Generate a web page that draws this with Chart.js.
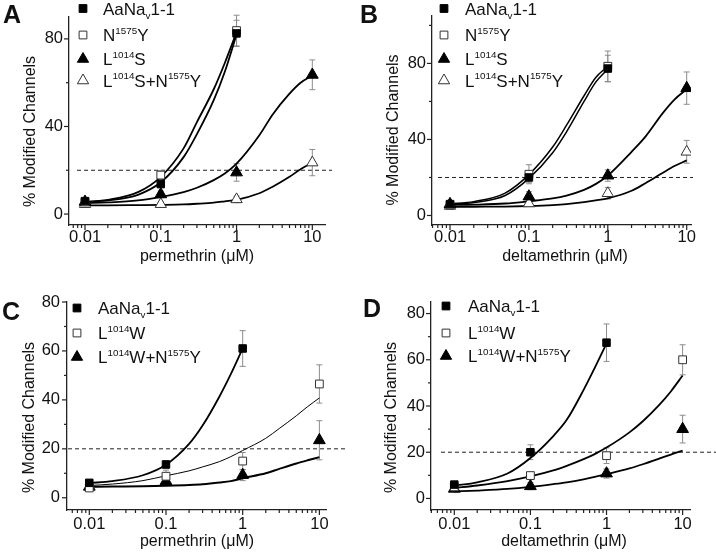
<!DOCTYPE html>
<html><head><meta charset="utf-8">
<script src="https://cdn.jsdelivr.net/npm/chart.js@4/dist/chart.umd.min.js"></script>
<style>
html,body{margin:0;padding:0;background:#fff;}
#wrap{position:relative;width:716px;height:553px;overflow:hidden;}
.p{position:absolute;}
canvas{display:block;}
</style></head><body>
<div id="wrap">
<div class="p" style="left:0;top:0"><canvas id="cA" width="358" height="276"></canvas></div>
<div class="p" style="left:358px;top:0"><canvas id="cB" width="358" height="276"></canvas></div>
<div class="p" style="left:0;top:276px"><canvas id="cC" width="358" height="277"></canvas></div>
<div class="p" style="left:358px;top:276px"><canvas id="cD" width="358" height="277"></canvas></div>
</div>
<script>
// ---------------- DATA ----------------
const conc = [0.01, 0.1, 1, 10];                 // measured concentrations (µM)
const fitConc = [0.01,0.02,0.05,0.1,0.2,0.3,0.5,0.7,1,2,3,5,7,10]; // fitted-curve sample points
const threshold = 20;

// Panel A: permethrin
const A_wt = [5.9, 13.7, 82.5];      const A_wt_err = [1, 1.5, 6];
const A_N  = [5.5, 17.8, 83.8];      const A_N_err  = [1, 2, 7];
const A_S  = [5.6, 9, 19, 63.6];     const A_S_err  = [1, 1.5, 4, 6.8];
const A_SN = [4.5, 4.5, 6.7, 23.5];  const A_SN_err = [1, 1, 1.5, 6];
const A_wt_fit = [5.5, 6.2, 8.8, 14.5, 26, 36.5, 52, 65, 82];
const A_N_fit  = [5.5, 6.5, 10, 17, 30, 42, 57, 69, 83];
const A_S_fit  = [5, 5.3, 6.2, 7.8, 10, 12, 15.5, 18.5, 23, 36, 45.5, 55, 60, 63.3];
const A_SN_fit = [4, 4, 4.1, 4.2, 4.4, 4.7, 5.2, 5.8, 6.5, 9.5, 12.5, 17, 20.5, 23.5];

// Panel B: deltamethrin
const B_wt = [6, 20, 77.3];          const B_wt_err = [1, 2.5, 7];
const B_N  = [5.5, 21.7, 78.5];      const B_N_err  = [1.5, 5, 8];
const B_S  = [6, 10, 21, 67];        const B_S_err  = [1, 2.5, 3, 8.5];
const B_SN = [5, 6.3, 11.7, 33.5];   const B_SN_err = [1.5, 1.5, 3, 6];
const B_wt_fit = [5.8, 6.8, 10.5, 19.5, 33, 44, 60, 70, 77];
const B_N_fit  = [6.2, 7.3, 11.8, 21.5, 36, 47.5, 63, 72.5, 78.5];
const B_S_fit  = [5.5, 5.7, 6.3, 7.5, 9, 10.5, 13.5, 16.5, 21, 33.5, 41.5, 54, 61, 66.4];
const B_SN_fit = [4.5, 4.6, 4.7, 5, 5.5, 6, 7, 7.9, 9, 13, 17, 22.5, 26, 29];

// Panel C: permethrin
const C_wt = [6.1, 13.6, 61];        const C_wt_err = [1, 1.5, 7.3];
const C_W  = [4, 8.8, 15, 46.5];     const C_W_err  = [1, 2.5, 3.5, 7.8];
const C_WN = [4.5, 6.8, 9.3, 23.5];  const C_WN_err = [1, 1.5, 2.3, 8];
const C_wt_fit = [6, 6.8, 9.2, 13.5, 22, 29.5, 41.5, 50.5, 61];
const C_W_fit  = [5, 5.6, 7, 9, 11, 12.6, 14.8, 16.8, 19.3, 24.3, 28.3, 33.5, 37.2, 40.8];
const C_WN_fit = [4.5, 4.6, 4.7, 4.9, 5.2, 5.5, 6.2, 6.8, 8, 10, 11.8, 14, 15.3, 16.6];

// Panel D: deltamethrin
const D_wt = [6, 20, 67.4];          const D_wt_err = [1.2, 3.2, 8.1];
const D_W  = [5, 9.9, 18.5, 60];     const D_W_err  = [1, 1.3, 3.4, 6.5];
const D_WN = [4.2, 5.3, 10.8, 30];   const D_WN_err = [1, 1.5, 2, 6];
const D_wt_fit = [5.5, 7, 10.8, 17.5, 27, 34, 47, 56.5, 67];
const D_W_fit  = [4.5, 5.6, 7.5, 9.5, 12.1, 14.1, 17, 19.2, 22, 28.6, 33.4, 40.7, 46.3, 53.2];
const D_WN_fit = [3, 3.4, 4.1, 5, 6.2, 7, 8.3, 9.3, 10.5, 13, 14.8, 17.3, 19, 20.7];

// Labels (^ = superscript, _ = subscript)
const L_WT = 'AaNa_v1-1', L_N = 'N^1575Y', L_S = 'L^1014S', L_SN = 'L^1014S+N^1575Y',
      L_W = 'L^1014W', L_WN = 'L^1014W+N^1575Y';

// ---------------- STYLE / LAYOUT ----------------
const FONT = "'Liberation Sans', Arial, Helvetica, sans-serif";
Chart.defaults.font.family = FONT;
Chart.defaults.color = '#111';

const STY = {
  fsq: {pointStyle:'rect', pointRadius:5.3, backgroundColor:'#000', borderColor:'#000', borderWidth:1},
  osq: {pointStyle:'rect', pointRadius:5.5, backgroundColor:'#fff', borderColor:'#333', borderWidth:1},
  ftri:{pointStyle:'triangle', pointRadius:6.8, backgroundColor:'#000', borderColor:'#000', borderWidth:1},
  otri:{pointStyle:'triangle', pointRadius:6.5, backgroundColor:'#fff', borderColor:'#333', borderWidth:1}
};

function pts(xs, ys){ return ys.map((y,i)=>({x:xs[i], y:y})); }
function marker(label, ys, errs, sty){
  return Object.assign({label:label, data:pts(conc, ys), errors:errs, showLine:false, order:0, isMarker:true}, sty);
}
function fit(ys, w){
  return {label:'', data:pts(fitConc, ys), showLine:true, pointRadius:0, borderColor:'#000', borderWidth:w||1.8,
          cubicInterpolationMode:'monotone', order:1, fill:false, isMarker:false};
}

function drawRich(ctx, text, x, yMid, size){
  const parts = text.split(/(\^\d+|_\w)/).filter(s=>s.length);
  const base = yMid + size*0.36;
  const small = size*0.58;
  let cx = x;
  ctx.textAlign = 'left'; ctx.textBaseline = 'alphabetic';
  parts.forEach(p=>{
    if(p[0]==='^'){
      ctx.font = small+'px '+FONT;
      const t=p.slice(1); ctx.fillText(t, cx, base - size*0.44); cx += ctx.measureText(t).width;
    } else if(p[0]==='_'){
      ctx.font = small+'px '+FONT;
      const t=p.slice(1); ctx.fillText(t, cx, base + size*0.24); cx += ctx.measureText(t).width;
    } else {
      ctx.font = size+'px '+FONT; ctx.fillText(p, cx, base); cx += ctx.measureText(p).width;
    }
  });
}

const decor = {
  id:'decor',
  beforeDatasetsDraw(chart){
    const p = chart.options.plugins.decor, ctx = chart.ctx, xs = chart.scales.x, ys = chart.scales.y, a = chart.chartArea;
    ctx.save();
    const yT = ys.getPixelForValue(threshold);
    ctx.setLineDash([4,3]); ctx.strokeStyle='#222'; ctx.lineWidth=1;
    ctx.beginPath(); ctx.moveTo(a.left + p.dash[0], yT); ctx.lineTo(a.right + p.dash[1], yT); ctx.stroke();
    ctx.setLineDash([]);
    chart.data.datasets.forEach(ds=>{
      if(!ds.errors) return;
      ds.data.forEach((pt,i)=>{
        const e = ds.errors[i]; if(!e) return;
        const x = xs.getPixelForValue(pt.x);
        const y1 = ys.getPixelForValue(pt.y+e), y2 = ys.getPixelForValue(pt.y-e);
        ctx.strokeStyle='#8c8c8c'; ctx.lineWidth=1;
        ctx.beginPath(); ctx.moveTo(x,y1); ctx.lineTo(x,y2);
        ctx.moveTo(x-3,y1); ctx.lineTo(x+3,y1); ctx.moveTo(x-3,y2); ctx.lineTo(x+3,y2); ctx.stroke();
      });
    });
    ctx.restore();
  },
  afterDraw(chart){
    const p = chart.options.plugins.decor, ctx = chart.ctx, xs = chart.scales.x, ys = chart.scales.y, a = chart.chartArea;
    ctx.save();
    ctx.strokeStyle='#222'; ctx.lineWidth=1.2;
    xs.ticks.forEach(t=>{
      const lg = Math.log10(t.value), major = Math.abs(lg-Math.round(lg))<1e-9;
      const x = xs.getPixelForValue(t.value);
      ctx.beginPath(); ctx.moveTo(x, a.bottom); ctx.lineTo(x, a.bottom + (major?5:3)); ctx.stroke();
    });
    p.yMajor.forEach(v=>{ const y=ys.getPixelForValue(v); ctx.beginPath(); ctx.moveTo(a.left,y); ctx.lineTo(a.left-5,y); ctx.stroke(); });
    p.yMinor.forEach(v=>{ const y=ys.getPixelForValue(v); ctx.beginPath(); ctx.moveTo(a.left,y); ctx.lineTo(a.left-3,y); ctx.stroke(); });
    ctx.fillStyle='#111'; ctx.font='16px '+FONT; ctx.textAlign='center'; ctx.textBaseline='middle';
    ctx.fillText(p.xTitle, p.xTitlePos[0], p.xTitlePos[1]);
    ctx.save(); ctx.translate(p.yTitlePos[0], p.yTitlePos[1]); ctx.rotate(-Math.PI/2);
    ctx.fillText(p.yTitle, 0, 0); ctx.restore();
    ctx.font='bold 25px '+FONT; ctx.textAlign='left'; ctx.textBaseline='alphabetic';
    ctx.fillText(p.letter, p.letterPos[0], p.letterPos[1]);
    const items = chart.data.datasets.filter(d=>d.isMarker);
    items.forEach((d,i)=>{
      const y = p.legend.rows[i];
      ctx.fillStyle = d.backgroundColor; ctx.strokeStyle = d.borderColor; ctx.lineWidth = d.borderWidth;
      const r = d.pointStyle==='rect' ? 5.5 : 6.5;
      Chart.helpers.drawPoint(ctx, {pointStyle:d.pointStyle, radius:r, rotation:0, borderWidth:d.borderWidth}, p.legend.mx, y);
      ctx.fillStyle='#111';
      drawRich(ctx, d.label, p.legend.tx, y, 17);
    });
    ctx.restore();
  }
};

function logTicks(scale){
  const out=[];
  for(let k=-3;k<=1;k++) for(let m=1;m<=9;m++){ const v=+(m*Math.pow(10,k)).toPrecision(3); if(v>=scale.min && v<=scale.max) out.push({value:v}); }
  scale.ticks = out;
}

function makeChart(id, cfg, datasets){
  const W = 358, H = document.getElementById(id).height;
  return new Chart(document.getElementById(id), {
    type:'scatter',
    data:{datasets:datasets},
    options:{
      responsive:false, animation:false, devicePixelRatio:1,
      layout:{padding:{left:0, right:W-cfg.area.r, top:cfg.area.t, bottom:0}},
      plugins:{legend:{display:false}, tooltip:{enabled:false}, decor:cfg},
      scales:{
        x:{type:'logarithmic', min:cfg.xMin, max:cfg.xMax,
           afterBuildTicks:logTicks,
           afterFit:(s)=>{ s.height = H - cfg.area.b; },
           grid:{drawOnChartArea:false, drawTicks:false},
           border:{display:true, color:'#222', width:1.3},
           ticks:{autoSkip:false, maxRotation:0, padding:cfg.xPad, color:'#111', font:{size:16.5},
                  callback:(v)=>{ const lg=Math.log10(v); return Math.abs(lg-Math.round(lg))<1e-9 ? String(+v.toPrecision(3)) : ''; }}},
        y:{type:'linear', min:cfg.yMin, max:cfg.yMax,
           afterBuildTicks:(s)=>{ s.ticks = cfg.yMajor.concat(cfg.yMinor).sort((a,b)=>a-b).map(v=>({value:v})); },
           afterFit:(s)=>{ s.width = cfg.area.l; },
           grid:{drawOnChartArea:false, drawTicks:false},
           border:{display:true, color:'#222', width:1.3},
           ticks:{autoSkip:false, padding:cfg.yPad, color:'#111', font:{size:16.5},
                  callback:(v)=> cfg.yMajor.indexOf(v)>=0 ? String(v) : ''}}
      }
    },
    plugins:[decor]
  });
}

const YT = '% Modified Channels';

makeChart('cA', {letter:'A', letterPos:[3,23], area:{l:69,r:325,t:17,b:225},
  xMin:0.00615, xMax:14.7, yMin:-5, yMax:90, yMajor:[0,40,80], yMinor:[20,60], xPad:3, yPad:6,
  xTitle:'permethrin (μM)', xTitlePos:[197,257], yTitle:YT, yTitlePos:[31,131.5], dash:[8,7],
  legend:{mx:83, tx:103, rows:[8.5,35,59,80.5]}},
  [marker(L_WT, A_wt, A_wt_err, STY.fsq), marker(L_N, A_N, A_N_err, STY.osq),
   marker(L_S, A_S, A_S_err, STY.ftri), marker(L_SN, A_SN, A_SN_err, STY.otri),
   fit(A_wt_fit), fit(A_N_fit), fit(A_S_fit), fit(A_SN_fit)]);

makeChart('cB', {letter:'B', letterPos:[2,23], area:{l:74,r:333,t:7,b:225},
  xMin:0.00591, xMax:11.34, yMin:-5, yMax:105, yMajor:[0,40,80], yMinor:[20,60,100], xPad:3, yPad:6,
  xTitle:'deltamethrin (μM)', xTitlePos:[207,257], yTitle:YT, yTitlePos:[36,130], dash:[6,2],
  legend:{mx:86, tx:107, rows:[8.5,35,59,80.5]}},
  [marker(L_WT, B_wt, B_wt_err, STY.fsq), marker(L_N, B_N, B_N_err, STY.osq),
   marker(L_S, B_S, B_S_err, STY.ftri), marker(L_SN, B_SN, B_SN_err, STY.otri),
   fit(B_wt_fit, 1.5), fit(B_N_fit, 1.5), fit(B_S_fit), fit(B_SN_fit)]);

makeChart('cC', {letter:'C', letterPos:[2,44], area:{l:67,r:326,t:26,b:234},
  xMin:0.00512, xMax:12.2, yMin:-5, yMax:80, yMajor:[0,20,40,60,80], yMinor:[10,30,50,70], xPad:5, yPad:7,
  xTitle:'permethrin (μM)', xTitlePos:[197,266], yTitle:YT, yTitlePos:[29.5,141.5], dash:[1,21],
  legend:{mx:77, tx:98, rows:[32,57,81]}},
  [marker(L_WT, C_wt, C_wt_err, STY.fsq), marker(L_W, C_W, C_W_err, STY.osq),
   marker(L_WN, C_WN, C_WN_err, STY.ftri),
   fit(C_wt_fit), fit(C_W_fit, 1), fit(C_WN_fit, 2)]);

makeChart('cD', {letter:'D', letterPos:[5,41], area:{l:73,r:332,t:26,b:234},
  xMin:0.00494, xMax:12.5, yMin:-5, yMax:85, yMajor:[0,20,40,60,80], yMinor:[10,30,50,70], xPad:5, yPad:6,
  xTitle:'deltamethrin (μM)', xTitlePos:[206,266], yTitle:YT, yTitlePos:[34,141.5], dash:[10,26],
  legend:{mx:88, tx:110, rows:[30,57,80]}},
  [marker(L_WT, D_wt, D_wt_err, STY.fsq), marker(L_W, D_W, D_W_err, STY.osq),
   marker(L_WN, D_WN, D_WN_err, STY.ftri),
   fit(D_wt_fit), fit(D_W_fit), fit(D_WN_fit)]);
</script>
</body></html>
